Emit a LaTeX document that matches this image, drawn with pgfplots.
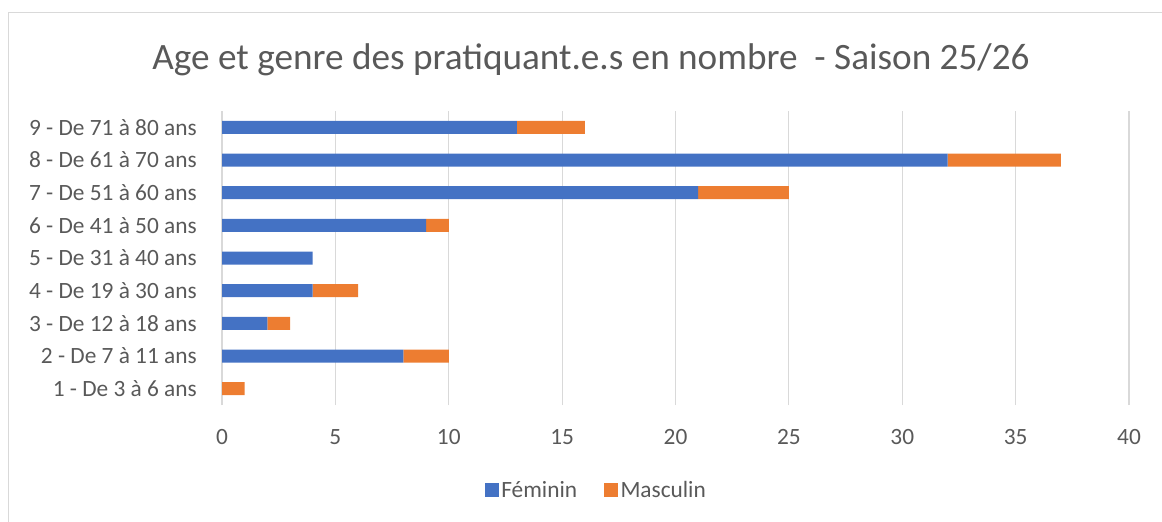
\documentclass[border=0pt]{standalone}
\usepackage{pgfplots}
\pgfplotsset{compat=1.18}
\usepackage{fontspec}
\setmainfont{Carlito}
\definecolor{fem}{HTML}{4472C4}
\definecolor{mas}{HTML}{ED7D31}
\definecolor{gridc}{HTML}{D9D9D9}
\definecolor{txt}{HTML}{595959}
\begin{document}
\begin{tikzpicture}
\useasboundingbox (0,0) rectangle (871.5pt,-390.75pt);
\draw[gridc, line width=0.9pt] (6.4pt,-395pt) -- (6.4pt,-9.4pt) -- (875pt,-9.4pt);
\node[txt, font=\fontsize{27.9}{33}\selectfont] at (443.25pt,-44.5pt) {Age et genre des pratiquant.e.s en nombre\ \ - Saison 25/26};
\begin{axis}[
  at={(166.5pt,-303.75pt)}, anchor=south west,
  scale only axis, width=680.25pt, height=220.5pt,
  xbar stacked, bar width=9.75pt,
  xmin=0, xmax=40, ymin=0.5, ymax=9.5,
  xtick={0,5,...,40},
  ytick={1,...,9},
  yticklabels={1 - De 3 à 6 ans, 2 - De 7 à 11 ans, 3 - De 12 à 18 ans, 4 - De 19 à 30 ans, 5 - De 31 à 40 ans, 6 - De 41 à 50 ans, 7 - De 51 à 60 ans, 8 - De 61 à 70 ans, 9 - De 71 à 80 ans},
  axis x line*=bottom, axis y line*=left,
  x axis line style={draw=none}, y axis line style={draw=none},
  major tick length=0pt,
  xmajorgrids, grid style={gridc, line width=0.9pt},
  /pgf/number format/assume math mode=true,
  tick label style={txt, font=\fontsize{17.5}{21}\selectfont},
  yticklabel style={anchor=east, inner sep=0pt, xshift=-18.75pt},
  xticklabel style={anchor=center, inner sep=0pt, yshift=-24pt},
  legend style={at={(0.413,-0.289)}, anchor=center, draw=none, fill=none,
    legend columns=2, font=\fontsize{17.5}{21}\selectfont, text=txt,
    /tikz/every even column/.append style={column sep=18pt},
    legend cell align=left},
  legend image code/.code={\fill[#1] (0pt,-5.25pt) rectangle (10.5pt,5.25pt);},
]
\addplot[fill=fem, draw=none] coordinates {(0,1) (8,2) (2,3) (4,4) (4,5) (9,6) (21,7) (32,8) (13,9)};
\addplot[fill=mas, draw=none] coordinates {(1,1) (2,2) (1,3) (2,4) (0,5) (1,6) (4,7) (5,8) (3,9)};
\legend{Féminin, Masculin}
\end{axis}
\end{tikzpicture}
\end{document}
